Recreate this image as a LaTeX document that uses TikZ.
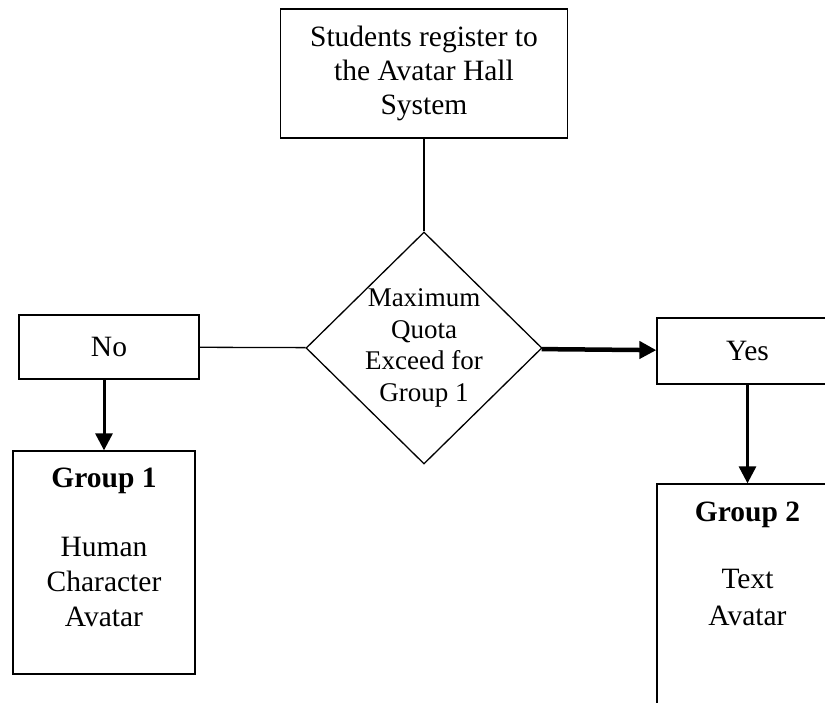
\documentclass[tikz,border=0pt]{standalone}
\usepackage{fontspec}
\setmainfont{Liberation Serif}
\usetikzlibrary{shapes.geometric,arrows.meta}

\begin{document}
\begin{tikzpicture}[x=1pt,y=-1pt,
  box/.style={draw,line width=1.3pt,inner sep=0pt},
  txt/.style={align=center,inner sep=0pt,font=\fontsize{29.5}{34}\selectfont},
  link/.style={line width=1.3pt},
  flow/.style={-{Triangle[length=17pt,width=17pt]},line width=3pt}]
  \useasboundingbox (0,0) rectangle (825,702);
  \clip (0,0) rectangle (825,702);

  % boxes
  \node[box,minimum width=287,minimum height=129] (reg) at (424,73.5) {};
  \node[txt] (regtxt) at (reg) {Students register to\\the Avatar Hall\\System};
  \node[box,diamond,minimum width=236,minimum height=232] (quota) at (424,348) {};
  \node[txt,font=\fontsize{27}{31.5}\selectfont] (quotatxt) at (quota) {Maximum\\Quota\\Exceed for\\Group 1};
  \node[box,minimum width=180,minimum height=64] (no) at (109,347) {};
  \node[txt] (notxt) at (no) {No};
  \node[box,minimum width=181,minimum height=66] (yes) at (747.5,351) {};
  \node[txt] (yestxt) at (yes) {Yes};
  \node[box,minimum width=182,minimum height=223] (grp1) at (104,562.5) {};
  \node[txt,anchor=north,font=\fontsize{29.5}{35}\selectfont] (grp1txt) at ([yshift=-17.5pt]grp1.north)
    {\textbf{Group 1}\\[34pt]Human\\Character\\Avatar};
  \node[box,minimum width=181,minimum height=240] (grp2) at (747.5,604) {};
  \node[txt,anchor=north,font=\fontsize{29.5}{36.5}\selectfont] (grp2txt) at ([yshift=-18pt]grp2.north)
    {\textbf{Group 2}\\[31pt]Text\\Avatar};

  % connectors
  \draw[link] (reg.south) -- (quota.north);
  \draw[link] (no) -- (quota);
  \draw[flow,line width=4.5pt] (quota) -- (yes);
  \draw[flow] (no.south -| grp1.north) -- (grp1.north);
  \draw[flow] (yes) -- (grp2);
\end{tikzpicture}
\end{document}
